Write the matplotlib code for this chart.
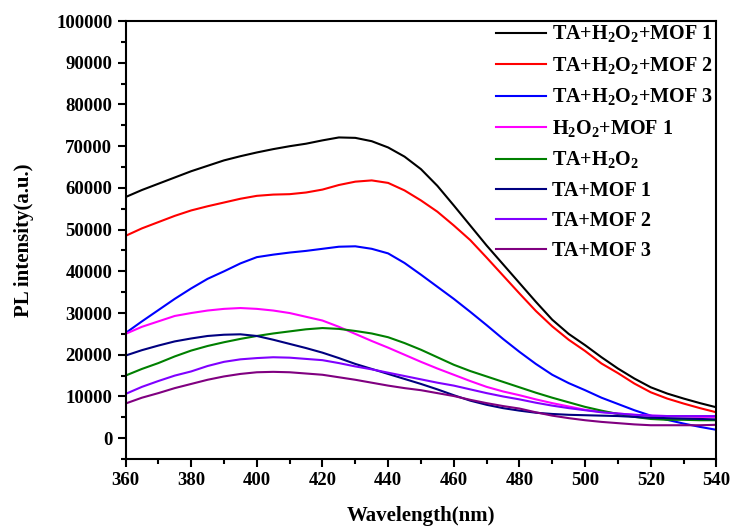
import matplotlib
matplotlib.use("Agg")
import matplotlib.pyplot as plt
from matplotlib.ticker import MultipleLocator

plt.rcParams['font.family'] = ['Liberation Serif', 'DejaVu Serif']
plt.rcParams['font.weight'] = 'bold'
plt.rcParams['mathtext.fontset'] = 'custom'
plt.rcParams['mathtext.rm'] = 'Liberation Serif:bold'
plt.rcParams['mathtext.bf'] = 'Liberation Serif:bold'

# wavelength grid (nm), 5 nm steps
wavelength = list(range(360, 545, 5))

# PL intensity (x1000)
ta_h2o2_mof1 = [57.8, 59.5, 61.0, 62.5, 64.0, 65.3, 66.6, 67.6, 68.5, 69.3,
                70.0, 70.6, 71.4, 72.1, 72.0, 71.2, 69.7, 67.5, 64.5, 60.5,
                55.8, 51.0, 46.2, 41.7, 37.2, 32.7, 28.4, 25.0, 22.3, 19.4,
                16.7, 14.3, 12.2, 10.7, 9.5, 8.4, 7.4]
ta_h2o2_mof2 = [48.5, 50.3, 51.8, 53.3, 54.6, 55.6, 56.5, 57.4, 58.1, 58.4,
                58.5, 58.9, 59.6, 60.7, 61.5, 61.8, 61.2, 59.4, 57.0, 54.3,
                51.0, 47.5, 43.3, 39.0, 34.7, 30.5, 26.8, 23.6, 20.9, 17.9,
                15.6, 13.1, 11.0, 9.5, 8.3, 7.2, 6.2]
ta_h2o2_mof3 = [25.2, 28.0, 30.7, 33.4, 35.9, 38.2, 40.0, 41.9, 43.4, 44.0,
                44.5, 44.9, 45.4, 45.9, 46.0, 45.4, 44.3, 42.0, 39.2, 36.3,
                33.4, 30.3, 27.1, 23.8, 20.7, 17.8, 15.2, 13.2, 11.5, 9.7,
                8.2, 6.7, 5.4, 4.4, 3.5, 2.7, 2.0]
h2o2_mof1 = [25.0, 26.7, 28.0, 29.3, 30.0, 30.6, 31.0, 31.2, 31.0, 30.6,
             30.0, 29.1, 28.2, 26.7, 25.0, 23.3, 21.7, 20.0, 18.3, 16.7,
             15.2, 13.7, 12.3, 11.2, 10.3, 9.3, 8.4, 7.6, 6.8, 6.3,
             5.9, 5.6, 5.4, 5.3, 5.2, 5.1, 5.1]
ta_h2o2 = [15.0, 16.6, 18.0, 19.6, 21.0, 22.1, 23.0, 23.8, 24.5, 25.1,
           25.6, 26.1, 26.4, 26.2, 25.7, 25.1, 24.2, 22.8, 21.2, 19.4,
           17.6, 16.1, 14.8, 13.5, 12.2, 10.9, 9.7, 8.6, 7.5, 6.6,
           5.8, 5.1, 4.6, 4.4, 4.4, 4.3, 4.3]
ta_mof1 = [19.8, 21.1, 22.2, 23.2, 23.9, 24.5, 24.8, 24.9, 24.5, 23.6,
           22.6, 21.6, 20.5, 19.2, 17.8, 16.6, 15.4, 14.2, 13.0, 11.7,
           10.3, 9.0, 8.0, 7.2, 6.6, 6.1, 5.8, 5.6, 5.5, 5.4,
           5.3, 5.1, 4.9, 4.8, 4.7, 4.6, 4.5]
ta_mof2 = [10.6, 12.3, 13.7, 15.0, 16.0, 17.3, 18.3, 18.9, 19.2, 19.4,
           19.3, 19.0, 18.7, 18.0, 17.2, 16.5, 15.7, 14.9, 14.1, 13.3,
           12.6, 11.7, 10.8, 10.0, 9.3, 8.5, 7.8, 7.2, 6.7, 6.2,
           5.9, 5.6, 5.4, 5.3, 5.3, 5.3, 5.3]
ta_mof3 = [8.3, 9.7, 10.8, 12.0, 13.0, 14.0, 14.8, 15.4, 15.8, 15.9,
           15.8, 15.5, 15.2, 14.6, 14.0, 13.3, 12.6, 12.0, 11.5, 10.8,
           10.1, 9.2, 8.4, 7.7, 7.1, 6.2, 5.4, 4.8, 4.3, 3.9,
           3.6, 3.3, 3.1, 3.1, 3.1, 3.1, 3.2]

series = [
    (ta_h2o2_mof1, r'TA+H$_\mathbf{2}$O$_\mathbf{2}$+MOF 1', '#000000'),
    (ta_h2o2_mof2, r'TA+H$_\mathbf{2}$O$_\mathbf{2}$+MOF 2', '#ff0000'),
    (ta_h2o2_mof3, r'TA+H$_\mathbf{2}$O$_\mathbf{2}$+MOF 3', '#0000ff'),
    (h2o2_mof1, r'H$_\mathbf{2}$O$_\mathbf{2}$+MOF 1', '#ff00ff'),
    (ta_h2o2, r'TA+H$_\mathbf{2}$O$_\mathbf{2}$', '#008000'),
    (ta_mof1, 'TA+MOF 1', '#000080'),
    (ta_mof2, 'TA+MOF 2', '#8000ff'),
    (ta_mof3, 'TA+MOF 3', '#800080'),
]

fig = plt.figure(figsize=(7.34, 5.27), dpi=100)
ax = fig.add_axes([0.171, 0.129, 0.805, 0.831])

for vals, lab, col in series:
    ax.plot(wavelength, [v * 1000 for v in vals], color=col, lw=1.5, label=lab)

ax.set_xlim(360, 540)
ax.set_ylim(-5000, 100000)
ax.xaxis.set_major_locator(MultipleLocator(20))
ax.xaxis.set_minor_locator(MultipleLocator(10))
ax.yaxis.set_major_locator(MultipleLocator(10000))
ax.yaxis.set_minor_locator(MultipleLocator(5000))
ax.tick_params(which='major', direction='out', length=6, width=1.5, labelsize=13.5)
ax.tick_params(which='minor', direction='out', length=3.5, width=1.5)
for sp in ax.spines.values():
    sp.set_linewidth(1.5)

ax.set_xlabel('Wavelength(nm)', fontsize=15, fontweight='bold', labelpad=12)
ax.set_ylabel('PL intensity(a.u.)', fontsize=15, fontweight='bold', labelpad=16)

ax.legend(loc='upper right', frameon=False, fontsize=14.5, handlelength=2.5,
          handletextpad=0.3, labelspacing=0.5, borderaxespad=0.0, borderpad=0.15)

fig.savefig('out.png', dpi=100)
